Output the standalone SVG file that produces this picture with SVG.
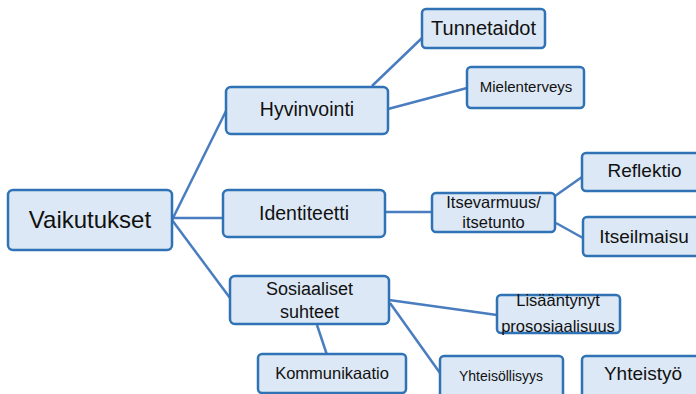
<svg xmlns="http://www.w3.org/2000/svg" width="696" height="394" viewBox="0 0 696 394">
<style>
.box{fill:#dce8f5;stroke:#2f72b5;stroke-width:2.5}
.ln{stroke:#4a7dbf;stroke-width:2.5;fill:none}
text{font-family:"Liberation Sans",Arial,sans-serif;fill:#111;text-anchor:middle}
</style>
<rect width="696" height="394" fill="#fff"/>
<g id="connectors">
<line class="ln" x1="172" y1="220" x2="226" y2="111"/>
<line class="ln" x1="172" y1="218" x2="223" y2="218"/>
<line class="ln" x1="172" y1="220" x2="230" y2="298"/>
<line class="ln" x1="372" y1="86" x2="422" y2="38"/>
<line class="ln" x1="388" y1="109" x2="467" y2="88"/>
<line class="ln" x1="385" y1="212" x2="432" y2="212"/>
<line class="ln" x1="555" y1="196" x2="582" y2="177"/>
<line class="ln" x1="556" y1="223" x2="583" y2="238"/>
<line class="ln" x1="389" y1="300" x2="497" y2="315"/>
<line class="ln" x1="390" y1="303" x2="440" y2="373"/>
<line class="ln" x1="317" y1="325" x2="327" y2="355"/>
</g>
<g id="vaikutukset"><rect class="box" x="8" y="190" width="164" height="60" rx="5"/><text x="90" y="228" font-size="24">Vaikutukset</text></g>
<g id="hyvinvointi"><rect class="box" x="226" y="87" width="162" height="47" rx="5"/><text x="307" y="116" font-size="19.5">Hyvinvointi</text></g>
<g id="tunnetaidot"><rect class="box" x="422" y="9" width="123" height="39" rx="4"/><text x="483.5" y="35" font-size="20">Tunnetaidot</text></g>
<g id="mielenterveys"><rect class="box" x="467" y="67" width="117" height="41" rx="4"/><text x="526" y="92" font-size="15">Mielenterveys</text></g>
<g id="reflektio"><rect class="box" x="582" y="153" width="125" height="38" rx="4"/><text x="644.5" y="177" font-size="19">Reflektio</text></g>
<g id="identiteetti"><rect class="box" x="223" y="190" width="162" height="47" rx="5"/><text x="304" y="220" font-size="19.5">Identiteetti</text></g>
<g id="itsevarmuus"><rect class="box" x="432" y="193" width="123" height="39" rx="4"/><text x="493.5" y="208" font-size="16.5">Itsevarmuus/</text><text x="493.5" y="228" font-size="16.5">itsetunto</text></g>
<g id="itseilmaisu"><rect class="box" x="583" y="217" width="124" height="39" rx="4"/><text x="644" y="243" font-size="19">Itseilmaisu</text></g>
<g id="sosiaaliset"><rect class="box" x="230" y="276" width="159" height="48" rx="5"/><text x="309.5" y="295" font-size="18">Sosiaaliset</text><text x="309.5" y="318" font-size="18">suhteet</text></g>
<g id="kommunikaatio"><rect class="box" x="258" y="354" width="148" height="39" rx="4"/><text x="332" y="379" font-size="16.5">Kommunikaatio</text></g>
<g id="prososiaalisuus"><rect class="box" x="497" y="295" width="123" height="38" rx="4"/><text x="558" y="306" font-size="16.5">Lisääntynyt</text><text x="558" y="332" font-size="16.5">prososiaalisuus</text></g>
<g id="yhteisollisyys"><rect class="box" x="440" y="356" width="123" height="45" rx="4"/><text x="501" y="381" font-size="14">Yhteisöllisyys</text></g>
<g id="yhteistyo"><rect class="box" x="582" y="356" width="124" height="45" rx="4"/><text x="643" y="380" font-size="19">Yhteistyö</text></g>
</svg>
